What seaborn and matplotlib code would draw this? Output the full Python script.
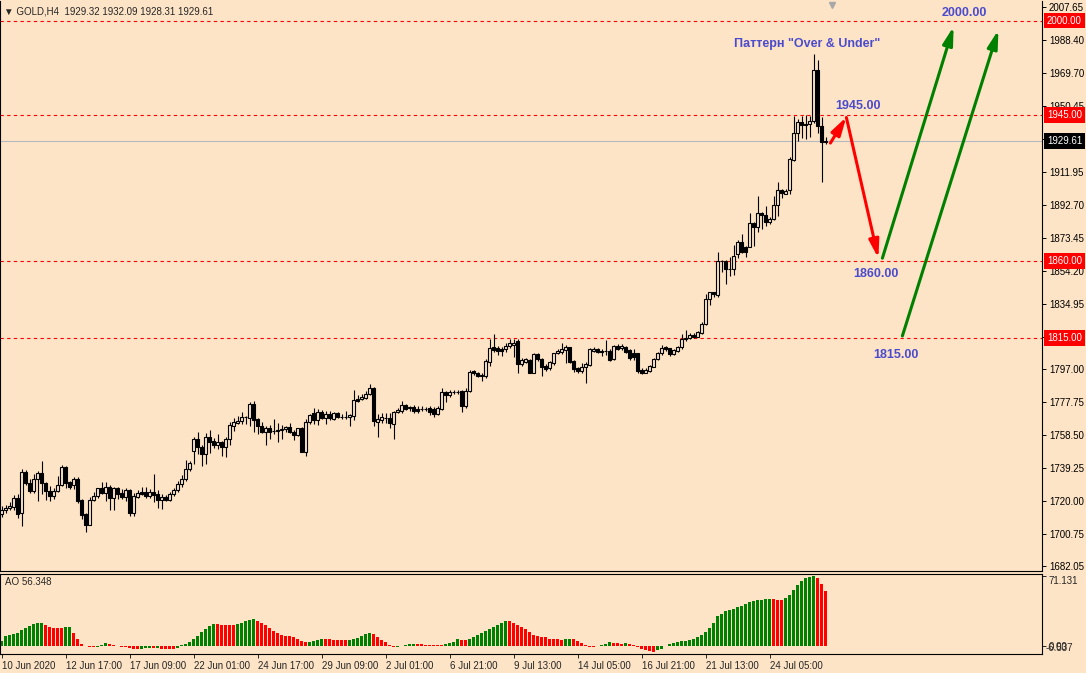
import matplotlib
matplotlib.use('Agg')
import matplotlib.pyplot as plt
import matplotlib.transforms as mtransforms
import numpy as np
import pandas as pd
import seaborn as sns

# GOLD H4 candles, 10 Jun - 28 Jul 2020
opens = [
    1712.4, 1714.6, 1715.9, 1716.7, 1721.8, 1712.8, 1736.9, 1730.5, 1726.0, 1732.9,
    1736.3, 1730.5, 1725.8, 1723.1, 1725.8, 1729.3, 1739.8, 1731.1, 1729.3, 1732.9,
    1720.6, 1712.4, 1706.2, 1720.4, 1722.9, 1727.6, 1724.7, 1728.2, 1721.9, 1727.6,
    1724.7, 1722.3, 1726.4, 1713.2, 1722.5, 1725.3, 1725.3, 1722.9, 1725.3, 1724.1,
    1720.8, 1722.3, 1720.8, 1723.9, 1726.4, 1729.8, 1732.9, 1738.7, 1749.1, 1756.3,
    1751.5, 1747.2, 1757.5, 1755.0, 1752.7, 1754.4, 1751.3, 1756.1, 1763.8, 1765.6,
    1766.7, 1768.7, 1768.5, 1776.8, 1767.7, 1763.8, 1760.1, 1762.4, 1760.8, 1761.2,
    1761.2, 1761.7, 1762.9, 1760.1, 1758.3, 1762.4, 1748.6, 1766.3, 1771.1, 1767.2,
    1772.1, 1768.2, 1770.5, 1767.8, 1771.1, 1769.2, 1769.1, 1769.2, 1769.7, 1779.3,
    1779.5, 1780.2, 1782.4, 1785.7, 1766.0, 1767.2, 1768.6, 1768.6, 1764.7, 1771.9,
    1772.5, 1775.8, 1774.7, 1774.7, 1773.5, 1773.9, 1773.6, 1774.2, 1773.6, 1770.7,
    1773.8, 1783.7, 1781.8, 1783.7, 1783.7, 1784.1, 1775.4, 1784.1, 1795.8, 1794.8,
    1793.5, 1793.0, 1801.2, 1809.6, 1809.0, 1808.4, 1808.4, 1810.4, 1810.8, 1813.4,
    1799.7, 1801.2, 1802.2, 1794.8, 1805.5, 1802.6, 1798.7, 1797.4, 1800.7, 1806.1,
    1807.0, 1808.0, 1809.6, 1801.8, 1797.4, 1796.0, 1797.9, 1799.3, 1807.6, 1808.4,
    1807.6, 1807.4, 1807.6, 1802.6, 1810.4, 1809.0, 1809.6, 1808.0, 1806.1, 1806.1,
    1796.4, 1794.8, 1796.0, 1798.3, 1802.6, 1806.1, 1809.6, 1809.0, 1805.5, 1807.6,
    1809.6, 1814.3, 1815.2, 1816.9, 1815.8, 1817.7, 1823.0, 1837.7, 1841.6, 1840.1,
    1859.9, 1859.9, 1855.1, 1855.1, 1864.0, 1871.1, 1868.2, 1868.2, 1881.9, 1879.9,
    1888.0, 1886.7, 1882.8, 1884.2, 1892.5, 1901.3, 1898.9, 1901.3, 1918.8, 1934.3,
    1940.7, 1939.6, 1939.6, 1941.5, 1971.2, 1938.7, 1929.32,
]
highs = [
    1717.1, 1717.5, 1719.6, 1723.5, 1724.1, 1738.7, 1738.1, 1732.9, 1735.8, 1737.5,
    1743.3, 1731.1, 1728.8, 1727.6, 1734.6, 1741.0, 1740.4, 1731.8, 1734.0, 1734.0,
    1721.2, 1713.2, 1722.5, 1725.3, 1727.6, 1731.1, 1731.1, 1729.3, 1728.4, 1727.9,
    1727.0, 1727.6, 1726.7, 1724.7, 1726.4, 1728.2, 1728.2, 1727.0, 1735.8, 1726.4,
    1723.9, 1723.5, 1725.1, 1727.6, 1731.5, 1735.2, 1743.9, 1743.5, 1757.5, 1760.2,
    1752.5, 1759.8, 1761.2, 1756.6, 1759.1, 1755.0, 1757.1, 1765.8, 1768.3, 1769.6,
    1772.0, 1769.6, 1777.6, 1778.2, 1768.3, 1766.3, 1763.8, 1764.3, 1767.7, 1765.6,
    1764.3, 1763.8, 1765.2, 1761.2, 1762.8, 1763.0, 1767.6, 1770.7, 1774.4, 1773.5,
    1773.1, 1772.6, 1772.5, 1772.1, 1772.1, 1770.9, 1772.5, 1770.5, 1784.5, 1781.8,
    1782.5, 1784.3, 1788.0, 1786.7, 1770.5, 1771.1, 1771.5, 1771.1, 1772.6, 1774.0,
    1778.3, 1776.4, 1775.4, 1775.8, 1775.4, 1775.4, 1774.8, 1775.4, 1774.8, 1775.4,
    1785.9, 1784.1, 1784.7, 1784.7, 1784.7, 1784.7, 1785.9, 1796.2, 1796.4, 1795.4,
    1794.8, 1802.6, 1814.3, 1817.3, 1810.4, 1809.6, 1812.3, 1814.3, 1814.3, 1814.3,
    1803.2, 1803.5, 1802.6, 1806.1, 1806.1, 1803.5, 1799.7, 1801.8, 1806.4, 1808.4,
    1812.3, 1810.9, 1809.9, 1802.2, 1798.3, 1800.6, 1801.2, 1809.0, 1809.6, 1809.0,
    1808.4, 1813.8, 1808.4, 1810.9, 1811.5, 1811.5, 1810.4, 1808.4, 1808.4, 1806.4,
    1797.4, 1797.4, 1799.3, 1803.2, 1807.0, 1810.9, 1810.5, 1809.4, 1808.8, 1810.4,
    1817.2, 1819.7, 1818.0, 1818.0, 1819.1, 1824.3, 1840.7, 1842.0, 1842.0, 1865.3,
    1860.2, 1860.2, 1862.4, 1869.2, 1872.1, 1875.5, 1868.8, 1888.0, 1882.8, 1897.8,
    1888.4, 1892.1, 1885.7, 1897.8, 1905.8, 1901.7, 1901.9, 1920.7, 1944.4, 1942.6,
    1944.4, 1944.8, 1944.4, 1980.5, 1977.0, 1943.6, 1932.09,
]
lows = [
    1710.7, 1713.2, 1714.8, 1714.8, 1710.3, 1705.6, 1729.2, 1724.9, 1724.9, 1720.0,
    1724.1, 1720.6, 1720.2, 1721.2, 1725.3, 1728.8, 1727.6, 1727.0, 1727.0, 1719.0,
    1709.7, 1702.1, 1705.9, 1720.0, 1721.6, 1724.1, 1720.0, 1714.8, 1714.6, 1721.4,
    1720.9, 1720.0, 1711.3, 1711.3, 1721.6, 1723.5, 1721.9, 1721.6, 1719.3, 1716.1,
    1715.5, 1720.0, 1719.8, 1722.8, 1725.1, 1728.4, 1731.6, 1737.5, 1741.6, 1747.2,
    1740.6, 1741.6, 1747.8, 1750.6, 1750.3, 1746.5, 1745.9, 1752.7, 1760.8, 1764.6,
    1764.6, 1764.6, 1763.6, 1760.4, 1759.1, 1759.5, 1752.4, 1756.0, 1759.1, 1754.1,
    1756.0, 1760.4, 1759.5, 1755.4, 1757.9, 1748.4, 1746.5, 1764.7, 1764.7, 1764.1,
    1767.8, 1764.7, 1767.0, 1767.2, 1768.2, 1767.8, 1767.8, 1763.5, 1767.2, 1777.9,
    1778.9, 1779.5, 1781.8, 1763.5, 1757.5, 1765.3, 1765.3, 1762.4, 1756.3, 1771.1,
    1771.1, 1773.1, 1772.5, 1771.1, 1771.1, 1772.5, 1772.5, 1770.1, 1769.0, 1770.1,
    1773.1, 1777.9, 1780.8, 1782.4, 1782.4, 1772.1, 1774.2, 1783.7, 1793.5, 1792.1,
    1790.1, 1791.5, 1798.9, 1807.0, 1805.1, 1804.7, 1807.0, 1809.0, 1803.8, 1794.4,
    1798.7, 1800.3, 1794.4, 1794.4, 1801.8, 1792.9, 1796.0, 1796.4, 1799.3, 1805.5,
    1805.5, 1800.6, 1800.6, 1795.4, 1794.4, 1794.4, 1789.0, 1798.7, 1807.0, 1806.1,
    1804.5, 1805.1, 1801.8, 1802.2, 1808.0, 1808.0, 1806.1, 1802.2, 1802.2, 1794.4,
    1793.9, 1794.4, 1795.0, 1797.9, 1802.2, 1805.1, 1807.4, 1804.5, 1805.1, 1807.0,
    1808.6, 1813.4, 1814.4, 1815.0, 1815.3, 1817.3, 1822.6, 1834.2, 1839.1, 1839.1,
    1853.6, 1846.3, 1851.1, 1851.7, 1861.5, 1864.7, 1862.4, 1867.8, 1868.8, 1876.6,
    1878.4, 1880.5, 1881.3, 1883.8, 1886.3, 1896.4, 1898.8, 1898.8, 1918.2, 1930.0,
    1931.7, 1931.0, 1932.3, 1940.1, 1934.3, 1906.1, 1928.31,
]
closes = [
    1714.6, 1716.1, 1717.1, 1721.8, 1712.3, 1736.9, 1730.5, 1726.0, 1732.9, 1736.3,
    1730.5, 1725.8, 1723.1, 1725.8, 1729.3, 1739.8, 1730.5, 1728.4, 1732.9, 1720.2,
    1712.0, 1706.2, 1720.4, 1722.9, 1727.4, 1724.5, 1728.2, 1721.9, 1727.6, 1724.3,
    1722.3, 1726.4, 1713.2, 1722.9, 1724.7, 1724.3, 1722.9, 1725.1, 1723.5, 1720.6,
    1722.5, 1720.8, 1723.9, 1726.4, 1729.9, 1732.9, 1738.9, 1742.2, 1756.3, 1751.3,
    1747.2, 1757.5, 1754.6, 1752.9, 1754.4, 1751.3, 1756.3, 1764.0, 1765.8, 1766.9,
    1768.7, 1768.9, 1776.8, 1767.3, 1763.8, 1760.1, 1762.4, 1760.4, 1760.9, 1760.8,
    1761.9, 1763.2, 1760.1, 1758.3, 1762.4, 1748.6, 1766.3, 1770.1, 1767.2, 1771.7,
    1768.2, 1770.5, 1768.6, 1771.3, 1769.2, 1769.0, 1769.2, 1770.1, 1778.7, 1778.5,
    1780.5, 1782.6, 1785.7, 1766.4, 1767.7, 1769.2, 1768.5, 1765.3, 1771.9, 1772.9,
    1775.8, 1773.6, 1774.1, 1772.6, 1772.5, 1773.7, 1773.5, 1771.9, 1770.7, 1774.0,
    1783.7, 1781.8, 1783.7, 1783.8, 1783.6, 1775.6, 1784.1, 1795.4, 1794.4, 1793.0,
    1792.9, 1801.6, 1809.0, 1808.0, 1807.6, 1807.6, 1810.4, 1811.9, 1811.9, 1799.7,
    1802.2, 1802.6, 1794.8, 1805.5, 1802.6, 1798.3, 1797.0, 1800.9, 1806.1, 1807.4,
    1808.4, 1809.9, 1801.2, 1796.8, 1796.0, 1798.3, 1799.9, 1808.4, 1808.6, 1807.0,
    1806.7, 1807.3, 1802.2, 1810.4, 1808.8, 1810.4, 1807.0, 1803.2, 1804.1, 1795.8,
    1794.8, 1796.4, 1798.7, 1802.6, 1806.1, 1809.4, 1808.4, 1805.5, 1808.0, 1809.9,
    1814.4, 1815.2, 1816.9, 1815.8, 1818.3, 1823.2, 1837.7, 1841.6, 1840.5, 1859.9,
    1859.8, 1855.1, 1855.0, 1862.8, 1871.1, 1865.3, 1865.3, 1881.9, 1879.9, 1887.7,
    1886.5, 1882.8, 1884.4, 1892.5, 1901.3, 1899.3, 1900.9, 1919.3, 1934.3, 1940.7,
    1939.2, 1939.2, 1941.5, 1971.2, 1938.7, 1929.1, 1929.61,
]

# Awesome Oscillator values, one per candle
ao = [
    5.9, 10.2, 11.6, 12.5, 13.9, 16.5, 19.1, 21.1, 22.4, 23.4, 24.1,
    21.8, 20.1, 19.1, 18.8, 18.5, 19.5, 19.9, 13.2, 7.6, 3.0, 0.7,
    -0.6, -1.0, -0.5, 1.8, 3.4, 2.6, 1.6, 0.8, -0.2, -0.9, -1.6, -2.3,
    -2.6, -2.2, -1.8, -1.6, -1.9, -1.7, -2.1, -2.4, -2.8, -2.9, -1.5,
    1.0, 2.6, 5.0, 7.6, 10.9, 14.2, 17.5, 20.5, 22.8,
    22.4, 22.1, 21.8, 21.6, 21.5, 22.6, 24.0, 25.4, 26.6, 27.4,
    25.7, 23.8, 21.8, 19.1, 15.8, 13.2, 11.6, 10.6, 10.3, 9.2, 7.6, 5.9, 4.3,
    4.9, 5.6, 6.3, 7.9, 7.6, 7.3, 7.0, 6.8, 6.6, 6.3,
    6.6, 7.6, 8.9, 10.2, 12.2, 13.2, 12.6, 10.0, 6.6, 4.3, 1.3, -0.4,
    -0.2, 0.3, 1.0, 2.0, 3.0, 2.7, 2.2, 1.8, 1.5, 1.3, 1.2, 1.1,
    2.0, 3.3, 5.0, 7.3, 6.9, 6.6,
    8.0, 9.6, 11.2, 13.2, 15.5, 17.8, 19.8, 22.1, 23.8, 25.7,
    25.4, 23.8, 22.1, 19.8, 17.5, 14.2, 11.9, 10.9, 9.9, 9.2, 7.9, 7.6, 7.3, 7.0,
    7.3, 7.6, 7.3, 5.9, 3.3, 1.0, -0.1, -0.7, 0.0, 1.0, 2.0, 4.3, 4.0, 3.3, 3.0, 3.6,
    2.6, 1.0, -0.6, -2.3, -3.6, -4.6, -5.3,
    -4.0, -2.3, 0.0, 2.0, 4.0, 4.6, 5.3, 5.9, 6.9, 7.6, 9.9, 11.6, 14.2, 18.5,
    24.1, 30.7, 33.0, 35.6, 37.3, 38.3, 39.6, 40.9, 42.9, 44.9, 46.2, 46.5, 47.2,
    47.9, 48.2,
    47.5, 46.9, 46.5,
    49.0, 52.0, 57.0, 62.0, 66.0, 69.0, 70.6, 71.131,
    69.5, 63.5, 56.348,
]

levels = [2000.00, 1945.00, 1860.00, 1815.00]
price_ticks = [2007.65, 1988.40, 1969.70, 1950.45, 1931.20, 1911.95, 1892.70,
               1873.45, 1854.20, 1834.95, 1815.70, 1797.00, 1777.75, 1758.50,
               1739.25, 1720.00, 1700.75, 1682.05]
time_labels = ['10 Jun 2020', '12 Jun 17:00', '17 Jun 09:00', '22 Jun 01:00',
               '24 Jun 17:00', '29 Jun 09:00', '2 Jul 01:00', '6 Jul 21:00',
               '9 Jul 13:00', '14 Jul 05:00', '16 Jul 21:00', '21 Jul 13:00',
               '24 Jul 05:00']
bars_per_label = 16
ao_max, ao_min = 71.131, -6.537

BG = '#FDE4C6'
GREEN = '#008000'
RED = '#FF0000'
BLUE = '#4B4BCD'

sns.set_style('white', {'axes.facecolor': BG, 'figure.facecolor': BG,
                        'axes.edgecolor': 'black'})
plt.rcParams['font.family'] = ['Liberation Sans', 'DejaVu Sans']

W, H = 1086, 673
fig = plt.figure(figsize=(W / 100, H / 100), dpi=100)
ax = fig.add_axes([0, (H - 571) / H, 1042 / W, 570 / H])
ax2 = fig.add_axes([0, (H - 654) / H, 1042 / W, 80 / H])

n = len(closes)
idx = np.arange(n)
o = np.array(opens)
c = np.array(closes)
up = c >= o

# candles
ax.vlines(idx, lows, highs, color='black', lw=0.8, zorder=2)
ax.bar(idx[up], (c - o)[up], bottom=o[up], width=0.55, color=BG,
       edgecolor='black', linewidth=0.8, zorder=3)
ax.bar(idx[~up], (c - o)[~up], bottom=o[~up], width=0.55, color='black',
       edgecolor='black', linewidth=0.8, zorder=3)

ax.set_xlim(-0.375, 260.1)
ax.set_ylim(1679.2, 2011.4)

# level lines
for lv in levels:
    ax.axhline(lv, color=RED, lw=0.8, ls=(0, (3, 3)), zorder=1)
ax.axhline(closes[-1], color='#B4B8C0', lw=0.8, zorder=1)

ax.yaxis.tick_right()
ax.set_yticks(price_ticks)
ax.set_yticklabels([f'{t:.2f}' for t in price_ticks])
ax.tick_params(axis='y', direction='out', length=3, width=0.7, pad=2,
               labelsize=7, colors='black', right=True, left=False)
ax.set_xticks([])
for s in ['left', 'right', 'bottom']:
    ax.spines[s].set_linewidth(0.8)
ax.spines['top'].set_visible(False)

trans = mtransforms.blended_transform_factory(ax.transAxes, ax.transData)
for lv in levels:
    ax.text(1.0048, lv, f'{lv:.2f}', transform=trans, ha='left', va='center',
            color='white', fontsize=7, clip_on=False, zorder=6,
            bbox=dict(boxstyle='square,pad=0.3', fc=RED, ec='none'))
ax.text(1.0048, closes[-1], f'{closes[-1]:.2f}', transform=trans, ha='left',
        va='center', color='white', fontsize=7, clip_on=False, zorder=6,
        bbox=dict(boxstyle='square,pad=0.3', fc='black', ec='none'))

# chart shift marker
ax.plot([n + 0.6], [0.993], marker='v', ms=5, color='#A8A8A8',
        transform=mtransforms.blended_transform_factory(ax.transData, ax.transAxes),
        clip_on=False, zorder=5)

# header
ax.text(0.004, 0.982, '\u25BC GOLD,H4  ' + ' '.join(f'{v:.2f}' for v in
        (opens[-1], highs[-1], lows[-1], closes[-1])),
        transform=ax.transAxes, fontsize=7, va='center', ha='left')

# forecast arrows
arrows = [
    ((n + 0.2, closes[-1] - 1), (n + 4.2, levels[1] - 1.2), RED),
    ((n + 4.2, levels[1] - 1.5), (n + 12.2, levels[2] + 1.5), RED),
    ((n + 13.2, levels[2] + 1.5), (n + 31, levels[0] - 3.5), GREEN),
    ((n + 18.2, levels[3] + 1.2), (n + 42.2, levels[0] - 5.5), GREEN),
]
for start, end, col in arrows:
    ax.annotate('', xy=end, xytext=start, zorder=7,
                arrowprops=dict(arrowstyle='-|>,head_length=0.9,head_width=0.25',
                                color=col, lw=2.2, shrinkA=0, shrinkB=0,
                                mutation_scale=12))

labels = [
    (n + 1.4, levels[1] + 5.2, f'{levels[1]:.2f}'),
    (n + 5.9, levels[2] - 7.7, f'{levels[2]:.2f}'),
    (n + 10.9, levels[3] - 9.9, f'{levels[3]:.2f}'),
    (n + 28.1, levels[0] + 4.4, f'{levels[0]:.2f}'),
    (n - 23.9, 1986.4, 'Паттерн "Over & Under"'),
]
for x, y, txt in labels:
    ax.text(x, y, txt, color=BLUE, fontsize=9, fontweight='bold',
            ha='left', va='center', zorder=7)

# AO histogram
ao_arr = np.array(ao)
trend = np.where(np.diff(ao_arr, prepend=ao_arr[0] - 1) > 0, 'up', 'down')
df = pd.DataFrame({'bar': idx, 'ao': ao_arr, 'trend': trend})
sns.barplot(data=df, x='bar', y='ao', hue='trend', palette={'up': GREEN, 'down': RED},
            native_scale=True, dodge=False, width=0.75, saturation=1,
            errorbar=None, legend=False, linewidth=0, ax=ax2)
ax2.set_xlim(-0.375, 260.1)
ax2.set_ylim(-7.6, 73.2)
ax2.set_xlabel('')
ax2.set_ylabel('')
ax2.yaxis.tick_right()
ax2.set_yticks([ao_max, 0])
ax2.set_yticklabels([f'{ao_max:.3f}', '0.00'])
ax2.get_yticklabels()[0].set_va('top')
ax2.tick_params(axis='y', direction='out', length=3, width=0.7, pad=2,
                labelsize=7, right=True, left=False)
ticks = np.arange(len(time_labels)) * bars_per_label
ax2.set_xticks(ticks)
ax2.set_xticklabels(time_labels)
ax2.tick_params(axis='x', direction='out', length=3, width=0.7, pad=2,
                labelsize=7, bottom=True)
plt.setp(ax2.get_xticklabels(), ha='left')
for s in ax2.spines.values():
    s.set_linewidth(0.8)
ax2.text(1.003, ao_min, f'{ao_min:.3f}', transform=mtransforms.blended_transform_factory(
    ax2.transAxes, ax2.transData), ha='left', va='bottom', fontsize=7, clip_on=False)
ax2.text(0.005, 0.9, f'AO {ao[-1]:.3f}', transform=ax2.transAxes, fontsize=7,
         ha='left', va='center')

fig.savefig('out.png', dpi=100, facecolor=BG)
